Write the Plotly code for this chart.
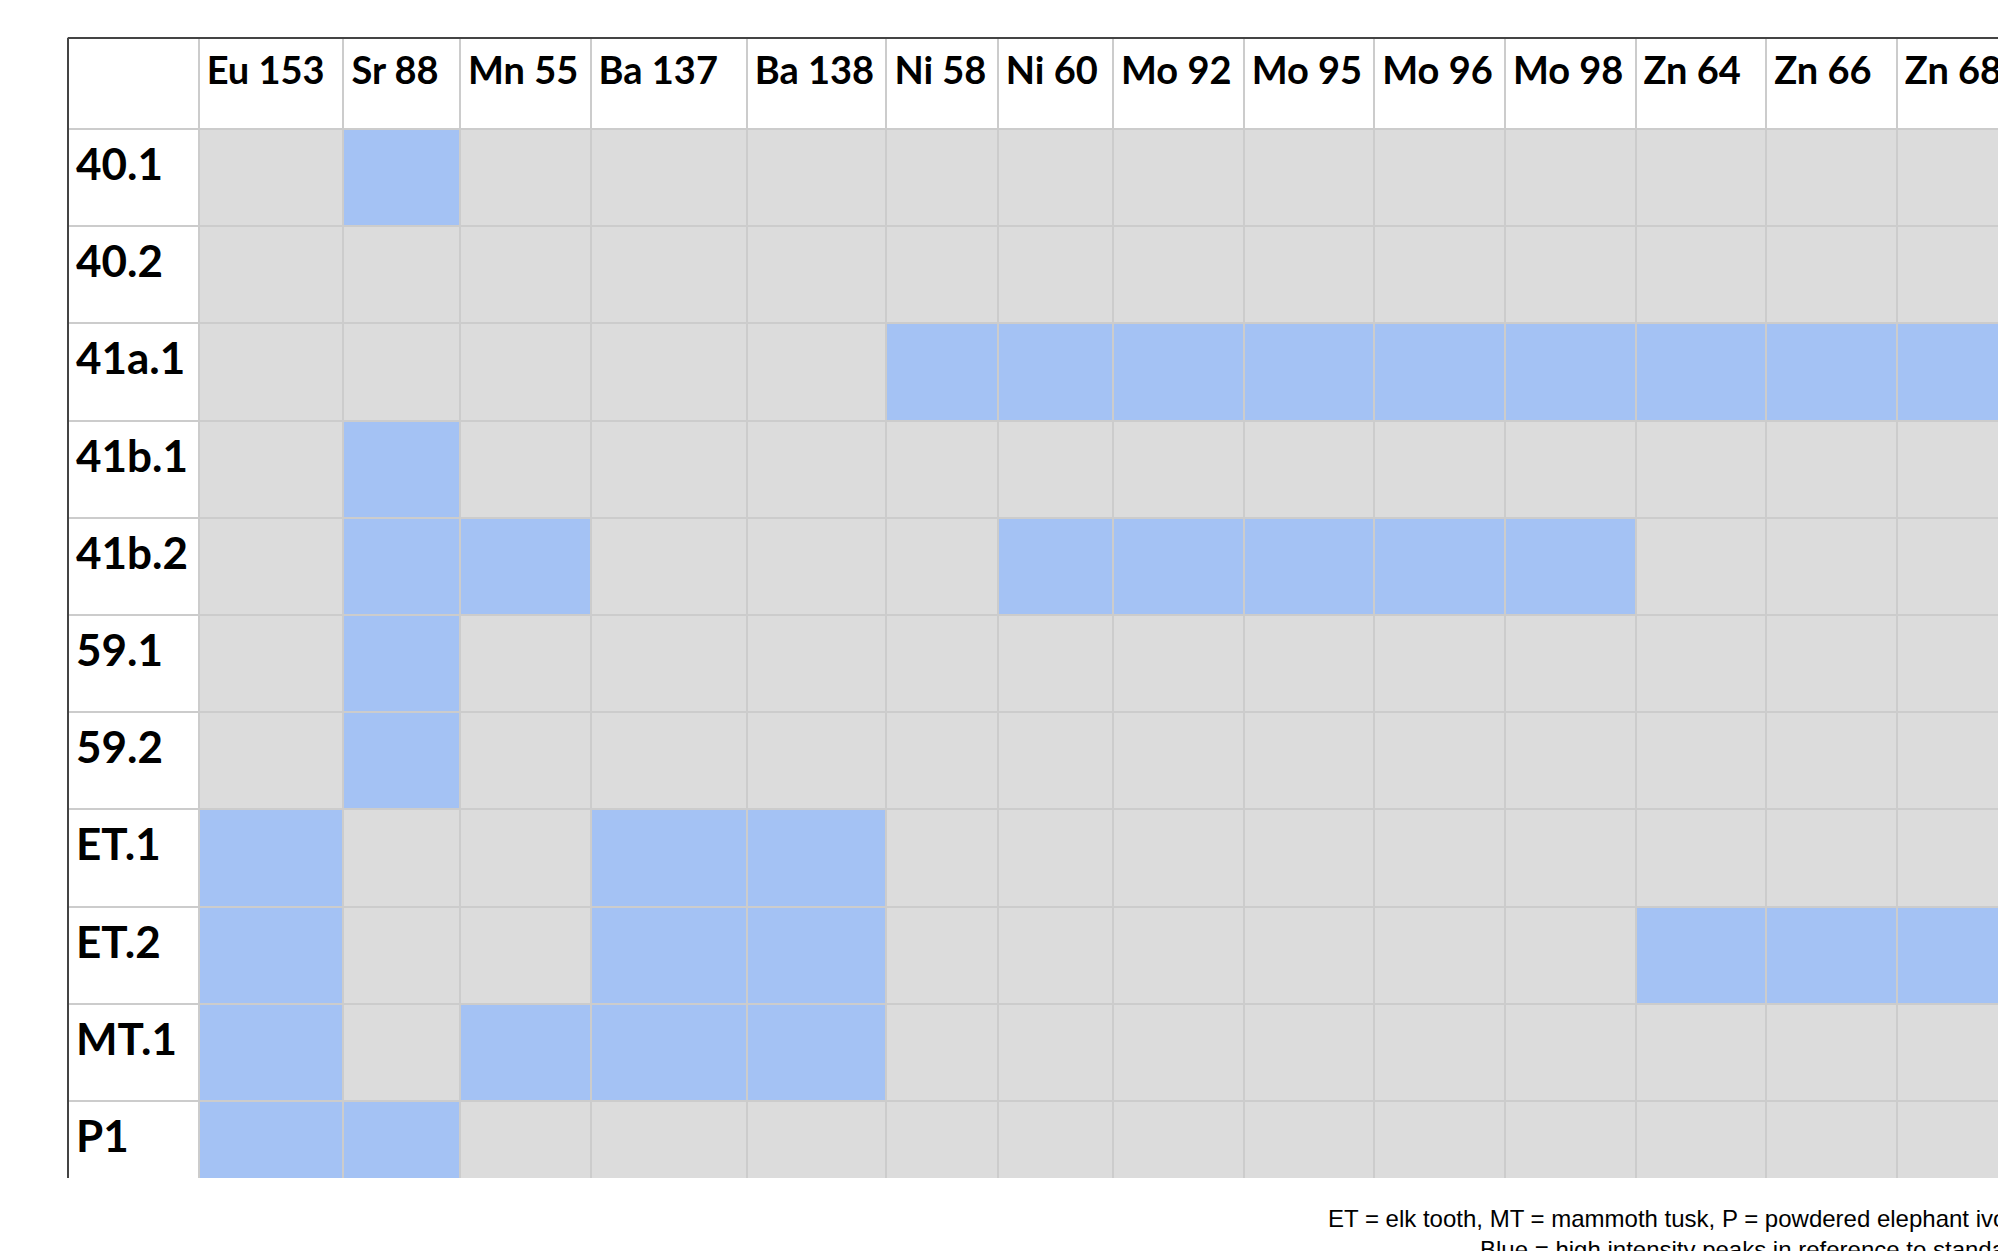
import plotly.graph_objects as go

samples = ["40.1", "40.2", "41a.1", "41b.1", "41b.2", "59.1", "59.2", "ET.1", "ET.2", "MT.1", "P1"]
isotopes = ["Eu 153", "Sr 88", "Mn 55", "Ba 137", "Ba 138", "Ni 58", "Ni 60",
            "Mo 92", "Mo 95", "Mo 96", "Mo 98", "Zn 64", "Zn 66", "Zn 68"]

# 1 = high intensity peak (blue), 0 = not (grey); one list per sample row
high_40_1  = [0, 1, 0, 0, 0, 0, 0, 0, 0, 0, 0, 0, 0, 0]
high_40_2  = [0, 0, 0, 0, 0, 0, 0, 0, 0, 0, 0, 0, 0, 0]
high_41a_1 = [0, 0, 0, 0, 0, 1, 1, 1, 1, 1, 1, 1, 1, 1]
high_41b_1 = [0, 1, 0, 0, 0, 0, 0, 0, 0, 0, 0, 0, 0, 0]
high_41b_2 = [0, 1, 1, 0, 0, 0, 1, 1, 1, 1, 1, 0, 0, 0]
high_59_1  = [0, 1, 0, 0, 0, 0, 0, 0, 0, 0, 0, 0, 0, 0]
high_59_2  = [0, 1, 0, 0, 0, 0, 0, 0, 0, 0, 0, 0, 0, 0]
high_ET_1  = [1, 0, 0, 1, 1, 0, 0, 0, 0, 0, 0, 0, 0, 0]
high_ET_2  = [1, 0, 0, 1, 1, 0, 0, 0, 0, 0, 0, 1, 1, 1]
high_MT_1  = [1, 0, 1, 1, 1, 0, 0, 0, 0, 0, 0, 0, 0, 0]
high_P1    = [1, 1, 0, 0, 0, 0, 0, 0, 0, 0, 0, 0, 0, 0]

rows = [high_40_1, high_40_2, high_41a_1, high_41b_1, high_41b_2, high_59_1,
        high_59_2, high_ET_1, high_ET_2, high_MT_1, high_P1]

BLUE = "#a4c2f4"
GREY = "#dcdcdc"
LINE = "#cccccc"

col_widths = [130.5, 144.6, 116.4, 130.5, 156, 139.5, 111.3, 115.1,
              130.5, 130.5, 130.5, 130.5, 130.5, 130.5, 131]

# non-breaking spaces keep each header on one line
header_vals = [""] + ["<b>%s</b>" % h.replace(" ", "\u00a0") for h in isotopes]
cell_vals = [["<b>%s</b>" % s for s in samples]] + [[""] * len(samples) for _ in isotopes]
fill_cols = [["white"] * len(samples)]
for j in range(len(isotopes)):
    fill_cols.append([BLUE if r[j] else GREY for r in rows])

fig = go.Figure(go.Table(
    columnwidth=col_widths,
    header=dict(values=header_vals, fill_color="white", align="left",
                line=dict(color=LINE, width=2), height=91,
                font=dict(family="Lato", size=38, color="black")),
    cells=dict(values=cell_vals, fill=dict(color=fill_cols), align="left",
               line=dict(color=LINE, width=2), height=97.2,
               font=dict(family="Lato", size=44, color="black")),
    domain=dict(x=[0, 1], y=[0, 1]),
))

fig.update_layout(
    width=2100, height=1300,
    margin=dict(l=60, r=80, t=30, b=130),
    paper_bgcolor="white",
    shapes=[
        dict(type="line", xref="paper", yref="paper", x0=0, x1=1, y0=1, y1=1,
             line=dict(color="#444", width=2)),
        dict(type="line", xref="paper", yref="paper", x0=0, x1=0, y0=0, y1=1,
             line=dict(color="#444", width=2)),
    ],
    annotations=[dict(
        text="ET = elk tooth, MT = mammoth tusk, P = powdered elephant ivory<br>"
             "Blue = high intensity peaks in reference to standard",
        xref="paper", yref="paper", x=1, y=0, xanchor="right", yanchor="top",
        align="right", showarrow=False, yshift=-25,
        font=dict(family="Arial, Liberation Sans", size=24, color="black"),
    )],
)

fig.write_html("out.html")
